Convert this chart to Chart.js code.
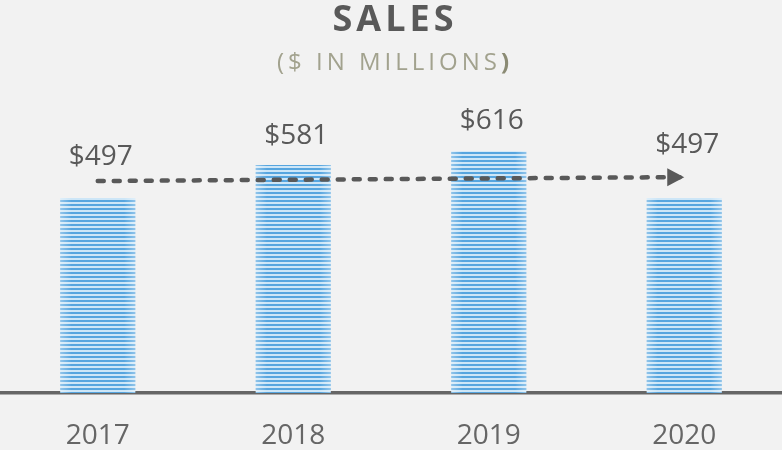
<!DOCTYPE html>
<html>
<head>
<meta charset="utf-8">
<script src="https://cdn.jsdelivr.net/npm/chart.js@4"></script>
<style>
 html,body{margin:0;padding:0;background:#f2f2f2;}
 #wrap{width:782px;height:450px;}
</style>
</head>
<body>
<div id="wrap"><canvas id="salesChart" width="782" height="450"></canvas></div>
<script>
const years = ['2017','2018','2019','2020'];
const sales = [497, 581, 616, 497];
const trend = [540, null, null, 550];
const title = 'SALES';
const subtitle = '($ IN MILLIONS';

const canvas = document.getElementById('salesChart');
const ctx = canvas.getContext('2d');

// striped fill for the bars
const pc = document.createElement('canvas');
pc.width = 1; pc.height = 4;
const p = pc.getContext('2d');
p.fillStyle = '#cde6f7'; p.fillRect(0,0,1,4);
p.fillStyle = '#56a5df'; p.fillRect(0,0,1,2);
const stripes = ctx.createPattern(pc,'repeat');

const labelGap = [33, 21, 22, 45];

const spaced = (c, txt, x, y, ls) => {
 c.letterSpacing = ls + 'px';
 const w = c.measureText(txt).width - ls;
 c.fillText(txt, x - w/2, y);
 return w;
};

const decor = {
 id:'decor',
 beforeDraw(chart){
  const c = chart.ctx;
  c.save();
  c.textBaseline = 'alphabetic';
  c.textAlign = 'left';
  c.fillStyle = '#595959';
  c.font = 'bold 36px "Open Sans"';
  spaced(c, title, 393, 31, 4);
  // subtitle, closing paren is bold and darker
  c.font = '24px "Open Sans"';
  c.letterSpacing = '4px';
  const w1 = c.measureText(subtitle).width;
  c.font = 'bold 24px "Open Sans"';
  c.letterSpacing = '0px';
  const w2 = c.measureText(')').width;
  const x0 = 393 - (w1 + w2)/2;
  c.font = '24px "Open Sans"';
  c.letterSpacing = '4px';
  c.fillStyle = '#a2a28e';
  c.fillText(subtitle, x0, 70);
  c.font = 'bold 24px "Open Sans"';
  c.letterSpacing = '0px';
  c.fillStyle = '#8b8b74';
  c.fillText(')', x0 + w1, 70);
  c.restore();
 },
 afterDatasetDraw(chart, args){
  if(args.index !== 0) return;
  const c = chart.ctx;
  chart.getDatasetMeta(0).data.forEach(b=>{
   const l = b.x - b.width/2, r = b.x + b.width/2;
   const g = c.createLinearGradient(l,0,r,0);
   g.addColorStop(0,'rgba(255,255,255,0.35)');
   g.addColorStop(0.15,'rgba(255,255,255,0)');
   g.addColorStop(0.85,'rgba(255,255,255,0)');
   g.addColorStop(1,'rgba(255,255,255,0.35)');
   c.fillStyle = g;
   c.fillRect(l, b.y, b.width, b.base - b.y);
  });
 },
 afterDatasetsDraw(chart){
  const c = chart.ctx;
  c.save();
  c.font = '28px "Open Sans"';
  c.fillStyle = '#595959';
  c.textAlign = 'center';
  c.textBaseline = 'alphabetic';
  chart.getDatasetMeta(0).data.forEach((b,i)=>{
   c.fillText('$' + sales[i], b.x + 3, b.y - labelGap[i]);
  });
  // arrow head at end of trend line
  const pts = chart.getDatasetMeta(1).data;
  const end = pts[pts.length-1];
  c.fillStyle = '#595959';
  c.beginPath();
  c.moveTo(end.x, end.y);
  c.lineTo(end.x - 17, end.y - 9);
  c.lineTo(end.x - 17, end.y + 9);
  c.closePath();
  c.fill();
  c.restore();
 }
};

new Chart(canvas,{
 type:'bar',
 data:{
  labels:years,
  datasets:[
   {type:'bar',data:sales,backgroundColor:stripes,barPercentage:0.384,categoryPercentage:1,order:1},
   {type:'line',data:trend,spanGaps:true,borderColor:'#595959',borderWidth:4.5,borderDash:[6,10],
    borderCapStyle:'round',pointRadius:0,fill:false,order:0}
  ]
 },
 options:{
  responsive:false,
  animation:false,
  layout:{padding:{top:79,left:0,right:0,bottom:0}},
  plugins:{legend:{display:false},tooltip:{enabled:false},title:{display:false}},
  scales:{
   x:{
    z:1,
    grid:{display:false,drawTicks:false},
    border:{display:true,color:'#666666',width:3.5},
    ticks:{color:'#666666',font:{family:'"Open Sans"',size:28},padding:26},
    afterFit(scale){ scale.height = 57; }
   },
   y:{display:false,min:0,max:800}
  }
 },
 plugins:[decor]
});
</script>
</body>
</html>
